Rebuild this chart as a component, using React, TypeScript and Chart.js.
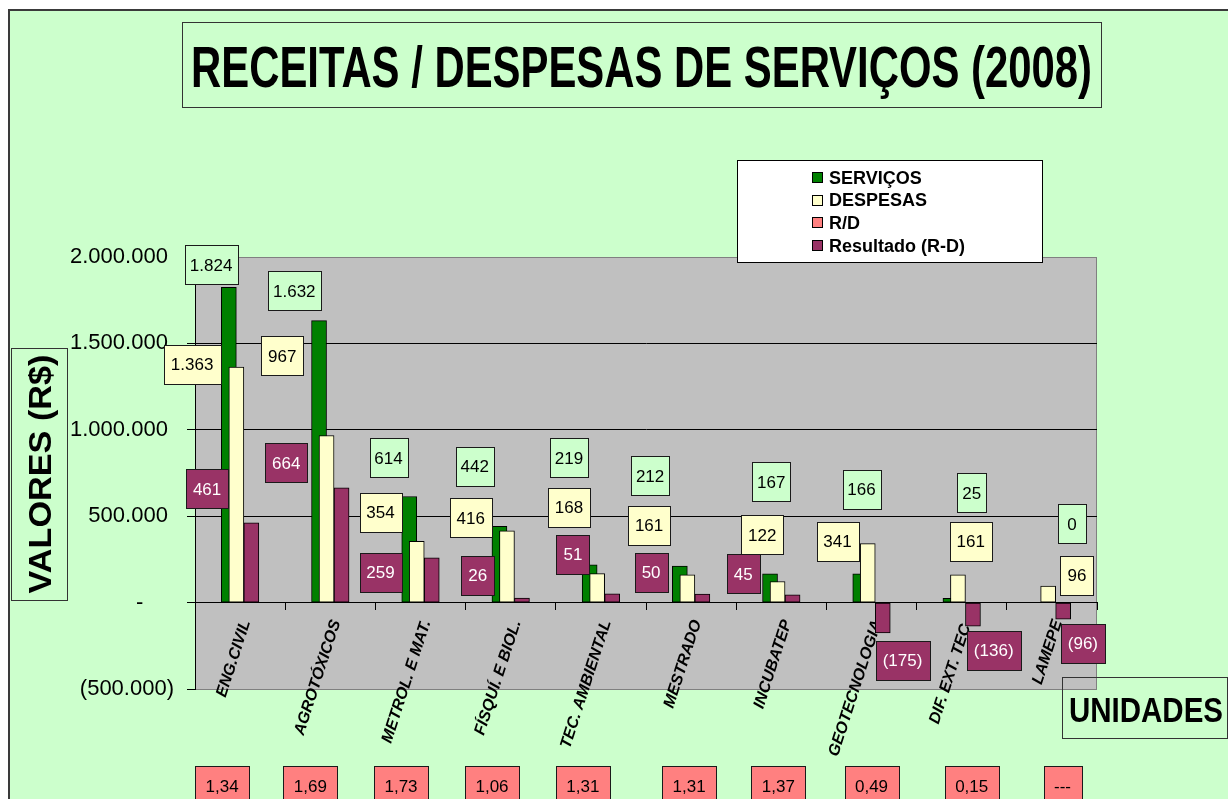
import React, { useEffect, useRef } from 'react';
import { Chart, registerables } from 'chart.js';

Chart.register(...registerables);

// ---------------- DATA ----------------
const categories = [
  'ENG.CIVIL',
  'AGROTÓXICOS',
  'METROL. E MAT.',
  'FÍSQUÍ. E BIOL.',
  'TEC. AMBIENTAL',
  'MESTRADO',
  'INCUBATEP',
  'GEOTECNOLOGIA',
  'DIF. EXT. TEC.',
  'LAMEPE',
];
const servicos = [1824000, 1632000, 614000, 442000, 219000, 212000, 167000, 166000, 25000, 0];
const despesas = [1363000, 967000, 354000, 416000, 168000, 161000, 122000, 341000, 161000, 96000];
const resultado = [461000, 664000, 259000, 26000, 51000, 50000, 45000, -175000, -136000, -96000];
const razaoRD: (number | null)[] = [1.34, 1.69, 1.73, 1.06, 1.31, 1.31, 1.37, 0.49, 0.15, null];
const yMin = -500000;
const yMax = 2000000;
const yStep = 500000;

const seriesNames = ['SERVIÇOS', 'DESPESAS', 'R/D', 'Resultado (R-D)'];

// ---------------- LABEL LAYOUT (manually placed data-label boxes) ----------------
// [horizontal offset from category centre in px, vertical anchor in thousands of R$]
const servicosLabelPos = [[-29, 1955], [-36, 1805], [-32, 837], [-36, 788], [-32, 837], [-41, 733], [-10, 698], [-10, 655], [10, 637], [20, 455]];
const despesasLabelPos = [[-48, 1379], [-48, 1428], [-40, 524], [-40, 490], [-32, 553], [-42, 449], [-19, 394], [-34, 356], [9, 356], [25, 159]];
const resultadoLabelPos = [[-33, 658], [-44, 808], [-40, 177], [-33, 159], [-28, 281], [-40, 177], [-38, 168], [31, -333], [32, -275], [31, -235]];
const rdLabelDx = [-18, -20, -19.5, -18.7, -18, -2, -3, 0, 10, 10.6];
const rdLabelLevel = -1060;

// ---------------- STYLE ----------------
const BG = '#CCFFCC';
const PLOT_BG = '#C0C0C0';
const GREEN = '#008000';
const YELLOW = '#FFFFCC';
const PINK = '#FF8080';
const PURPLE = '#993366';
const FONT = "'Liberation Sans', Arial, sans-serif";
const BAR_STEP = 0.0832; // category units between overlapping bars
const BOX_H = 39;

const fmtInt = (n: number) => Math.round(Math.abs(n)).toString().replace(/\B(?=(\d{3})+(?!\d))/g, '.');
const kLabel = (v: number) => (v < 0 ? `(${fmtInt(v / 1000)})` : fmtInt(v / 1000));
const rdText = (v: number | null) => (v === null ? '---' : v.toFixed(2).replace('.', ','));

function fittedText(ctx: CanvasRenderingContext2D, text: string, cx: number, cy: number, size: number, width: number, rot = 0) {
  ctx.save();
  ctx.font = `bold ${size}px ${FONT}`;
  const w = ctx.measureText(text).width;
  ctx.translate(cx, cy);
  ctx.rotate(rot);
  ctx.scale(width / w, 1);
  ctx.textAlign = 'center';
  ctx.textBaseline = 'alphabetic';
  ctx.fillStyle = '#000';
  ctx.fillText(text, 0, size * 0.358);
  ctx.restore();
}

function labelBox(ctx: CanvasRenderingContext2D, text: string, cx: number, cy: number, fill: string, color: string, pad: number, minW: number) {
  ctx.save();
  ctx.font = `17px ${FONT}`;
  const tw = ctx.measureText(text).width;
  const w = Math.max(minW, Math.round(tw + pad));
  const x = Math.round(cx - w / 2) + 0.5;
  const y = Math.round(cy - BOX_H / 2) + 0.5;
  ctx.fillStyle = fill;
  ctx.fillRect(x, y, w, BOX_H);
  ctx.strokeStyle = '#1a1a1a';
  ctx.lineWidth = 1;
  ctx.strokeRect(x, y, w, BOX_H);
  ctx.fillStyle = color;
  ctx.textAlign = 'center';
  ctx.textBaseline = 'alphabetic';
  ctx.fillText(text, cx, cy + 6);
  ctx.restore();
}

const backgroundPlugin = {
  id: 'bgFrame',
  beforeDraw(chart: any) {
    const { ctx, chartArea } = chart;
    ctx.save();
    ctx.fillStyle = '#FFFFFF';
    ctx.fillRect(0, 0, chart.width, chart.height);
    ctx.fillStyle = BG;
    ctx.fillRect(9, 10, chart.width - 9, chart.height - 10);
    ctx.fillStyle = '#3a3a3a';
    ctx.fillRect(8, 9, chart.width - 8, 2);
    ctx.fillRect(8, 9, 2, chart.height - 9);
    ctx.fillStyle = PLOT_BG;
    ctx.fillRect(chartArea.left, chartArea.top, chartArea.right - chartArea.left, chartArea.bottom - chartArea.top);
    ctx.strokeStyle = '#808080';
    ctx.lineWidth = 1;
    ctx.strokeRect(chartArea.left + 0.5, chartArea.top + 0.5, chartArea.right - chartArea.left - 1, chartArea.bottom - chartArea.top);
    ctx.restore();
  },
};

const overlayPlugin = {
  id: 'overlay',
  afterDraw(chart: any) {
    const { ctx } = chart;
    const xs = chart.scales.x;
    const ys = chart.scales.y;

    // data label boxes
    const groups = [
      { vals: servicos, pos: servicosLabelPos, fill: BG, color: '#000', pad: 10 },
      { vals: despesas, pos: despesasLabelPos, fill: YELLOW, color: '#000', pad: 14 },
      { vals: resultado, pos: resultadoLabelPos, fill: PURPLE, color: '#FFFFFF', pad: 14 },
    ];
    groups.forEach((g) => {
      g.vals.forEach((v, i) => {
        const cx = xs.getPixelForValue(i) + g.pos[i][0];
        const cy = ys.getPixelForValue(g.pos[i][1] * 1000);
        labelBox(ctx, kLabel(v), cx, cy, g.fill, g.color, g.pad, 28);
      });
    });
    razaoRD.forEach((v, i) => {
      const cx = xs.getPixelForValue(i) + rdLabelDx[i];
      const cy = ys.getPixelForValue(rdLabelLevel * 1000);
      labelBox(ctx, rdText(v), cx, cy, PINK, '#000', 21, v === null ? 31 : 54);
    });

    ctx.save();
    // title box
    ctx.strokeStyle = '#333';
    ctx.lineWidth = 1;
    ctx.strokeRect(182.5, 22.5, 919, 85);
    fittedText(ctx, 'RECEITAS / DESPESAS DE SERVIÇOS (2008)', 641.5, 67, 57, 901);

    // y-axis title box
    ctx.fillStyle = BG;
    ctx.fillRect(11.5, 348.5, 56, 252);
    ctx.strokeRect(11.5, 348.5, 56, 252);
    fittedText(ctx, 'VALORES (R$)', 39.5, 474, 31, 239, -Math.PI / 2);

    // x-axis title box
    ctx.strokeRect(1062.5, 677.5, 165, 61);
    fittedText(ctx, 'UNIDADES', 1146, 709, 35, 154);

    // legend
    ctx.fillStyle = '#FFFFFF';
    ctx.fillRect(737.5, 160.5, 305, 102);
    ctx.strokeStyle = '#000';
    ctx.strokeRect(737.5, 160.5, 305, 102);
    const legendColors = [GREEN, YELLOW, PINK, PURPLE];
    ctx.font = `bold 18px ${FONT}`;
    ctx.textBaseline = 'alphabetic';
    ctx.textAlign = 'left';
    seriesNames.forEach((name, k) => {
      const cy = 177 + k * 22.7;
      ctx.fillStyle = legendColors[k];
      ctx.fillRect(812.5, Math.round(cy - 5) + 0.5, 10, 10);
      ctx.strokeStyle = '#000';
      ctx.strokeRect(812.5, Math.round(cy - 5) + 0.5, 10, 10);
      ctx.fillStyle = '#000';
      ctx.fillText(name, 829, cy + 6.5);
    });
    ctx.restore();
  },
};

const yTickText = (v: number) => {
  if (v === 0) return '-\u2007\u2007 ';
  if (v < 0) return `(${fmtInt(v)})`;
  return `${fmtInt(v)} `;
};

const barOffset = (k: number) => (k - 1.5) * BAR_STEP;

export default function App() {
  const ref = useRef<HTMLCanvasElement>(null);

  useEffect(() => {
    if (!ref.current) return;
    Chart.defaults.font.family = FONT;
    const mk = (vals: (number | null)[], k: number) => vals.map((v, i) => ({ x: i + barOffset(k), y: v }));
    const common = {
      xAxisID: 'xb',
      yAxisID: 'y',
      grouped: false,
      barThickness: 15,
      borderColor: '#000',
      borderWidth: 1,
      borderSkipped: false as const,
    };
    const chart = new Chart(ref.current, {
      type: 'bar',
      data: {
        labels: categories,
        datasets: [
          { ...common, label: seriesNames[0], data: mk(servicos, 0) as any, backgroundColor: GREEN, order: 4 },
          { ...common, label: seriesNames[1], data: mk(despesas, 1) as any, backgroundColor: YELLOW, order: 3 },
          // R/D ratio bars are ~0 high on the R$ scale: invisible in the original, shown only via legend/labels
          { ...common, label: seriesNames[2], data: mk(razaoRD, 2) as any, backgroundColor: 'rgba(255,128,128,0)', borderWidth: 0, order: 2 },
          { ...common, label: seriesNames[3], data: mk(resultado, 3) as any, backgroundColor: PURPLE, order: 1 },
        ],
      },
      options: {
        responsive: false,
        animation: false,
        devicePixelRatio: 1,
        events: [],
        layout: { padding: { left: 0, top: 257, right: 131, bottom: 110 } },
        plugins: { legend: { display: false }, title: { display: false }, tooltip: { enabled: false } },
        scales: {
          xb: { type: 'linear', display: false, min: -0.5, max: 9.5, offset: false },
          x: {
            type: 'category',
            position: { y: 0 } as any,
            offset: true,
            z: 1,
            grid: { offset: true, drawOnChartArea: false, drawTicks: true, tickLength: 7, color: '#000' },
            border: { display: true, color: '#000', width: 1 },
            ticks: {
              autoSkip: false,
              minRotation: 72,
              maxRotation: 72,
              padding: 8,
              labelOffset: 6,
              color: '#000',
              font: { size: 16, weight: 'bold', style: 'italic', family: FONT },
            },
          },
          y: {
            type: 'linear',
            min: yMin,
            max: yMax,
            afterFit: (s: any) => { s.width = 195; },
            grid: {
              color: (c: any) => (c.tick && (c.tick.value === yMin || c.tick.value === yMax) ? '#808080' : '#000'),
              tickColor: '#000',
              tickLength: 8,
            },
            border: { display: true, color: '#000' },
            ticks: {
              stepSize: yStep,
              padding: 13,
              color: '#000',
              font: { size: 22, family: FONT },
              callback: (v: any) => yTickText(Number(v)),
            },
          },
        },
      },
      plugins: [backgroundPlugin, overlayPlugin],
    } as any);
    return () => chart.destroy();
  }, []);

  return (
    <div style={{ position: 'fixed', left: 0, top: 0, width: 1228, height: 799 }}>
      <canvas ref={ref} width={1228} height={799} style={{ display: 'block' }} />
    </div>
  );
}
